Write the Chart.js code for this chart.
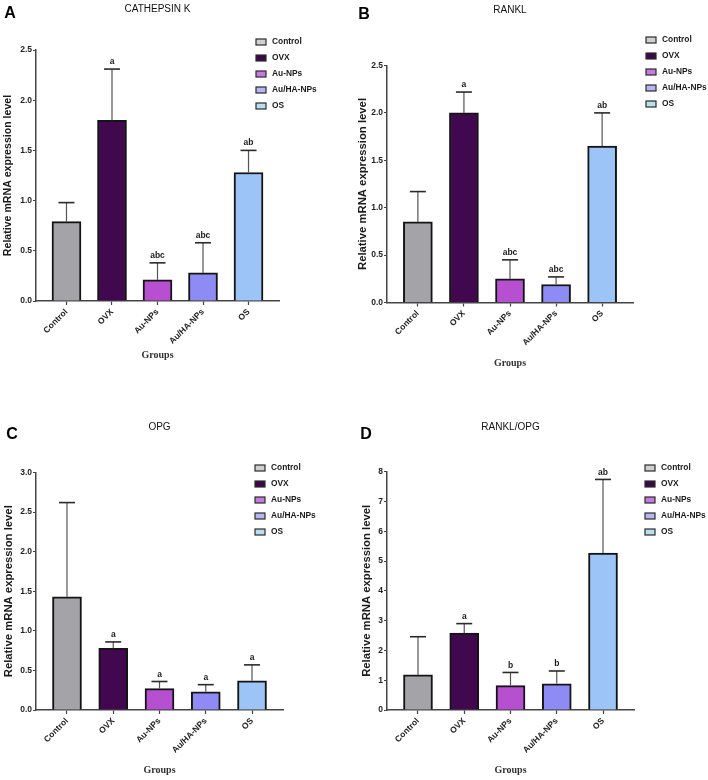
<!DOCTYPE html>
<html>
<head>
<meta charset="utf-8">
<script src="https://cdn.jsdelivr.net/npm/chart.js@4.4.1/dist/chart.umd.min.js"></script>
<style>
  body { margin: 0; background: #fff; }
  #wrap { position: relative; width: 708px; height: 780px; }
  .panel { position: absolute; width: 354px; height: 390px; }
</style>
</head>
<body>
<div id="wrap">
  <div class="panel" style="left:0;top:0"><canvas id="chartA" width="354" height="390"></canvas></div>
  <div class="panel" style="left:354px;top:0"><canvas id="chartB" width="354" height="390"></canvas></div>
  <div class="panel" style="left:0;top:390px"><canvas id="chartC" width="354" height="390"></canvas></div>
  <div class="panel" style="left:354px;top:390px"><canvas id="chartD" width="354" height="390"></canvas></div>
</div>
<script>
const groups = ['Control', 'OVX', 'Au-NPs', 'Au/HA-NPs', 'OS'];

const cathepsinMean = [0.79, 1.80, 0.21, 0.28, 1.28];
const cathepsinSd = [0.19, 0.51, 0.17, 0.30, 0.22];
const cathepsinSig = ['', 'a', 'abc', 'abc', 'ab'];

const ranklMean = [0.85, 2.00, 0.25, 0.19, 1.65];
const ranklSd = [0.32, 0.22, 0.20, 0.08, 0.35];
const ranklSig = ['', 'a', 'abc', 'abc', 'ab'];

const opgMean = [1.43, 0.78, 0.27, 0.23, 0.37];
const opgSd = [1.19, 0.08, 0.09, 0.09, 0.20];
const opgSig = ['', 'a', 'a', 'a', 'a'];

const ratioMean = [1.18, 2.58, 0.82, 0.88, 5.27];
const ratioSd = [1.28, 0.32, 0.44, 0.43, 2.47];
const ratioSig = ['', 'a', 'b', 'b', 'ab'];

const ticksTo25 = [0, 0.5, 1.0, 1.5, 2.0, 2.5];
const ticksTo30 = [0, 0.5, 1.0, 1.5, 2.0, 2.5, 3.0];
const ticksTo8 = [0, 1, 2, 3, 4, 5, 6, 7, 8];

const barColors = ['#a4a3a8', '#42084f', '#b650d0', '#8e8cf4', '#9cc4f6'];
const legendColors = ['#d0d0d0', '#3c0848', '#c77ade', '#b8b6f2', '#b8def2'];

const W = 354, H = 390;
const sans = 'Arial, "Liberation Sans", sans-serif';

function makePanel(id, o) {
  // error bars, letters, title, panel letter and legend
  const extras = {
    id: 'extras' + id,
    afterDatasetsDraw(chart) {
      const ctx = chart.ctx;
      const y = chart.scales.y;
      const bars = chart.getDatasetMeta(0).data;
      ctx.save();
      bars.forEach((bar, i) => {
        const top = y.getPixelForValue(o.mean[i] + o.sd[i]);
        ctx.strokeStyle = '#555';
        ctx.lineWidth = 1.2;
        ctx.beginPath();
        ctx.moveTo(bar.x, bar.y);
        ctx.lineTo(bar.x, top);
        ctx.stroke();
        ctx.strokeStyle = '#2a2a2a';
        ctx.lineWidth = 1.6;
        ctx.beginPath();
        ctx.moveTo(bar.x - 8, top);
        ctx.lineTo(bar.x + 8, top);
        ctx.stroke();
        if (o.sig[i]) {
          ctx.fillStyle = '#1a1a1a';
          ctx.font = 'bold 8.5px ' + sans;
          ctx.textAlign = 'center';
          ctx.textBaseline = 'bottom';
          ctx.fillText(o.sig[i], bar.x, top - 3);
        }
      });
      ctx.restore();
    },
    afterDraw(chart) {
      const ctx = chart.ctx;
      const area = chart.chartArea;
      ctx.save();
      ctx.textBaseline = 'middle';
      ctx.textAlign = 'center';
      ctx.fillStyle = '#111';
      ctx.font = '10px ' + sans;
      ctx.fillText(o.title, (area.left + area.right) / 2, o.titleY);
      ctx.fillStyle = '#000';
      ctx.font = 'bold 16px ' + sans;
      ctx.fillText(o.letter, o.letterPos[0], o.letterPos[1]);
      ctx.textAlign = 'left';
      ctx.font = 'bold 8.4px ' + sans;
      groups.forEach((g, i) => {
        const ly = o.legendY + i * 16;
        ctx.fillStyle = legendColors[i];
        ctx.fillRect(o.legendX, ly - 3, 10, 6);
        ctx.strokeStyle = '#2a2a2a';
        ctx.lineWidth = 1.2;
        ctx.strokeRect(o.legendX, ly - 3, 10, 6);
        ctx.fillStyle = '#1a1a1a';
        ctx.fillText(g, o.legendX + 16, ly);
      });
      ctx.restore();
    }
  };

  new Chart(document.getElementById(id), {
    type: 'bar',
    data: {
      datasets: [{
        data: o.mean.map((v, i) => ({ x: i, y: v })),
        backgroundColor: barColors,
        borderColor: '#141414',
        borderWidth: 2,
        barThickness: 29
      }]
    },
    options: {
      responsive: false,
      animation: false,
      layout: { padding: { left: 0, top: o.area.top, right: W - o.area.right, bottom: 0 } },
      plugins: { legend: { display: false }, tooltip: { enabled: false } },
      scales: {
        x: {
          type: 'linear',
          min: -0.67,
          max: 4.67,
          offset: false,
          afterBuildTicks: s => { s.ticks = groups.map((g, i) => ({ value: i })); },
          afterFit: s => { s.height = H - o.area.bottom; },
          grid: { offset: false, drawOnChartArea: false, tickLength: 4, color: '#444', tickWidth: 1.2 },
          border: { color: '#444', width: 1.5 },
          ticks: {
            autoSkip: false, minRotation: 45, maxRotation: 45, padding: 2,
            color: '#222', font: { family: sans, size: 8.5, weight: 'bold' },
            callback: v => groups[v]
          },
          title: {
            display: true, text: 'Groups', color: '#333',
            font: { family: '"Liberation Serif", "Times New Roman", serif', size: 10, weight: 'bold' },
            padding: { top: 0, bottom: o.xTitlePad }
          }
        },
        y: {
          min: 0,
          max: o.ticks[o.ticks.length - 1],
          afterBuildTicks: s => { s.ticks = o.ticks.map(v => ({ value: v })); },
          afterFit: s => { s.width = o.area.left; },
          grid: { drawOnChartArea: false, tickLength: 3, color: '#444', tickWidth: 1.2 },
          border: { color: '#444', width: 1.5 },
          ticks: {
            padding: 1, color: '#222', font: { family: sans, size: 8.5, weight: 'bold' },
            callback: v => o.decimals ? v.toFixed(1) : String(v)
          },
          title: {
            display: true, text: 'Relative mRNA expression level', color: '#1a1a1a',
            font: { family: sans, size: o.ySize, weight: 'bold' },
            padding: { top: o.yTitlePad, bottom: 0 }
          }
        }
      }
    },
    plugins: [extras]
  });
}

makePanel('chartA', {
  mean: cathepsinMean, sd: cathepsinSd, sig: cathepsinSig, ticks: ticksTo25, decimals: true,
  title: 'CATHEPSIN K', letter: 'A',
  area: { left: 36, right: 279, top: 50, bottom: 301 },
  titleY: 9, letterPos: [10, 14], legendX: 256, legendY: 42,
  ySize: 10.6, yTitlePad: 2, xTitlePad: 29
});
makePanel('chartB', {
  mean: ranklMean, sd: ranklSd, sig: ranklSig, ticks: ticksTo25, decimals: true,
  title: 'RANKL', letter: 'B',
  area: { left: 33, right: 279, top: 65.5, bottom: 302.5 },
  titleY: 10, letterPos: [10, 15], legendX: 292, legendY: 40,
  ySize: 11.3, yTitlePad: 2.5, xTitlePad: 21
});
makePanel('chartC', {
  mean: opgMean, sd: opgSd, sig: opgSig, ticks: ticksTo30, decimals: true,
  title: 'OPG', letter: 'C',
  area: { left: 36, right: 283, top: 82.5, bottom: 320 },
  titleY: 37, letterPos: [12, 45], legendX: 255, legendY: 78,
  ySize: 11.3, yTitlePad: 2.5, xTitlePad: 4
});
makePanel('chartD', {
  mean: ratioMean, sd: ratioSd, sig: ratioSig, ticks: ticksTo8, decimals: false,
  title: 'RANKL/OPG', letter: 'D',
  area: { left: 33, right: 280, top: 81.7, bottom: 320 },
  titleY: 37, letterPos: [12, 45], legendX: 291, legendY: 78,
  ySize: 11.3, yTitlePad: 6.5, xTitlePad: 4
});
</script>
</body>
</html>
